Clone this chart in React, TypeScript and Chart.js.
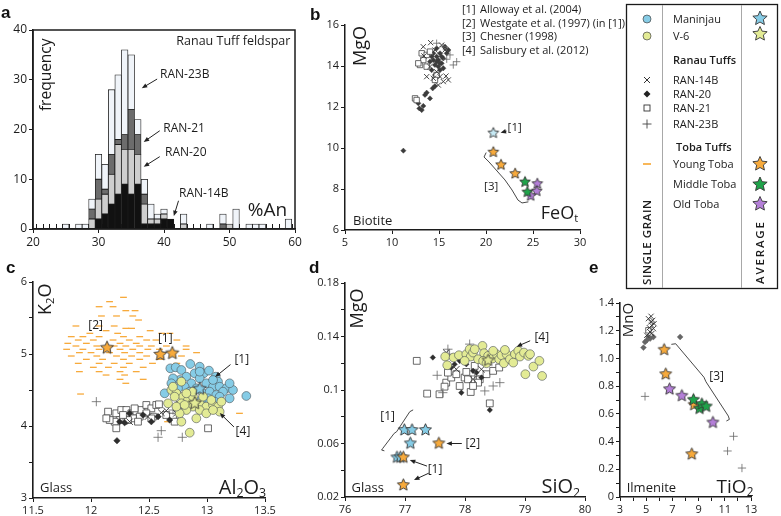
import React, { useEffect, useRef } from 'react';
import { Chart, registerables } from 'chart.js';

Chart.register(...registerables);

const FONT = "'Open Sans', 'Noto Sans', sans-serif";
const INK = '#1c1c1c';

/* ---------- a: plagioclase %An histogram, Ranau Tuffs ---------- */
const anBins = [25, 27, 28, 29, 30, 31, 32, 33, 34, 35, 36, 37, 38, 39, 40, 41, 43, 47, 49, 50, 51, 53, 54, 55, 59];
const anRAN14B = [0, 0, 0, 0, 2, 3, 5, 7, 9, 7, 9, 1, 1, 1, 2, 2, 0, 0, 0, 0, 0, 0, 0, 0, 0];
const anRAN20 = [0, 0, 0, 2, 4, 4, 6, 10, 7, 9, 6, 4, 1, 1, 1, 0, 1, 0, 0, 1, 0, 0, 0, 0, 0];
const anRAN21 = [0, 0, 0, 2, 4, 1, 4, 1, 3, 8, 4, 2, 0, 0, 0, 0, 0, 0, 1, 0, 0, 0, 0, 0, 0];
const anRAN23B = [1, 1, 1, 2, 5, 5, 13, 13, 17, 11, 3, 3, 3, 1, 1, 0, 2, 1, 2, 0, 4, 1, 1, 1, 2];
const aXTicks = [20, 60, 10];
const aYTicks = [0, 40, 10];

/* ---------- b: biotite FeOt vs MgO ---------- */
const bRAN14B = [[14.11, 15.14], [15.28, 15.02], [15.46, 13.24], [15.99, 13.32], [14.93, 13.07], [13.69, 13.48], [13.4, 14.49], [14.57, 14.78], [15.11, 13.48], [15.64, 14.78], [14.75, 13.72], [14.04, 13.97], [14.4, 13.4], [15.74, 13.51], [13.33, 14.94]];
const bRAN20 = [[12.8, 12.18], [12.91, 11.93], [13.16, 11.85], [13.33, 12.05], [13.51, 12.59], [13.69, 12.7], [14.04, 12.42], [14.33, 12.91], [14.57, 13.02], [11.21, 9.87], [14.4, 14.29], [14.75, 14.46], [15.11, 14.62], [15.28, 14.13], [15.46, 14.37], [14.93, 13.97], [14.57, 14.05], [14.22, 13.8], [15.64, 14.94], [15.82, 14.62], [14.75, 14.86], [15.11, 13.8], [14.57, 13.56], [14.04, 14.21], [15.46, 13.89], [14.93, 14.29], [15.28, 14.46], [14.4, 14.62], [16.0, 14.78], [14.22, 14.46], [15.11, 14.13], [14.75, 14.21]];
const bRAN21 = [[13.16, 14.62], [12.98, 14.05], [13.33, 14.29], [13.69, 14.54], [12.45, 12.42], [12.62, 12.34], [14.75, 13.56], [14.57, 13.32], [14.04, 14.7], [13.69, 13.97], [12.8, 14.13]];
const bRAN23B = [[16.88, 14.21], [16.17, 14.54], [16.52, 14.05], [15.82, 14.33], [15.46, 14.94], [14.75, 15.11]];
const bManinjauAvg = [[20.78, 10.75]];
const bYoungAvg = [[20.78, 9.82], [21.6, 9.2], [23.1, 8.77]];
const bMiddleAvg = [[24.15, 8.36], [24.4, 7.87]];
const bOldAvg = [[25.46, 8.28], [25.4, 7.92], [24.75, 7.69]];
const bXTicks = [5, 30, 5];
const bYTicks = [6, 16, 2];

/* ---------- c: glass Al2O3 vs K2O ---------- */
const cYoung = [
  [12.28, 5.787], [12.16, 5.727], [12.07, 5.657], [12.19, 5.657], [12.3, 5.602], [12.38, 5.602],
  [12.09, 5.528], [12.22, 5.528], [12.36, 5.528], [12.41, 5.472], [11.87, 5.389], [12.07, 5.389], [12.2, 5.389],
  [12.3, 5.356], [12.35, 5.356], [12.13, 5.324], [12.51, 5.324], [11.99, 5.287], [12.23, 5.287], [12.61, 5.287], [12.68, 5.287],
  [11.83, 5.241], [11.93, 5.241], [12.07, 5.241], [12.28, 5.241], [12.42, 5.241],
  [11.89, 5.194], [12.02, 5.194], [12.19, 5.194], [12.33, 5.194], [12.48, 5.194], [12.56, 5.194], [12.74, 5.194],
  [11.8, 5.148], [11.96, 5.148], [12.25, 5.148], [12.39, 5.148],
  [11.87, 5.111], [12.05, 5.111], [12.2, 5.111], [12.3, 5.111], [12.42, 5.111], [12.52, 5.111], [12.65, 5.111], [12.82, 5.111],
  [11.79, 5.065], [11.93, 5.065], [12.07, 5.065], [12.25, 5.065], [12.36, 5.065], [12.49, 5.065], [12.59, 5.065], [12.82, 5.065],
  [11.9, 5.019], [12.0, 5.019], [12.16, 5.019], [12.29, 5.019], [12.42, 5.019], [12.71, 5.019], [12.91, 5.019],
  [11.83, 4.972], [12.05, 4.972], [12.22, 4.972], [12.35, 4.972], [12.48, 4.972], [12.78, 4.972],
  [11.96, 4.926], [12.1, 4.926], [12.28, 4.926], [12.42, 4.926], [12.59, 4.926],
  [11.89, 4.87], [12.07, 4.87], [12.2, 4.87], [12.33, 4.87], [12.53, 4.87], [12.74, 4.87],
  [12.02, 4.815], [12.15, 4.815], [12.28, 4.815], [12.45, 4.815],
  [11.9, 4.755], [12.07, 4.755], [12.25, 4.755], [12.39, 4.755], [12.13, 4.708], [12.29, 4.708],
  [12.25, 4.648], [12.45, 4.648], [12.3, 4.593], [11.91, 4.444], [13.28, 4.176], [12.82, 4.245], [12.91, 4.245],
  [12.56, 4.139], [12.71, 4.139], [12.66, 4.06], [12.78, 4.06]];
const cManinjau = [[12.635, 4.454], [12.684, 4.801], [12.73, 4.815], [12.779, 4.778], [12.856, 4.861], [12.937, 4.824], [12.971, 4.731], [13.017, 4.769], [13.075, 4.685], [13.095, 4.616], [12.822, 4.685], [12.764, 4.639], [12.707, 4.662], [12.894, 4.731], [12.937, 4.662], [12.865, 4.593], [12.994, 4.593], [13.052, 4.546], [13.109, 4.546], [13.167, 4.523], [13.224, 4.5], [13.195, 4.593], [13.138, 4.477], [13.339, 4.417], [12.807, 4.546], [12.75, 4.523], [12.908, 4.523], [12.966, 4.454], [13.023, 4.477], [13.08, 4.431], [12.951, 4.361], [13.009, 4.384], [13.109, 4.407], [13.066, 4.338], [12.851, 4.477], [13.195, 4.384], [12.693, 4.593], [13.052, 4.639], [12.937, 4.755]];
const cV6 = [[12.693, 4.5], [12.736, 4.454], [12.793, 4.407], [12.836, 4.361], [12.779, 4.315], [12.879, 4.407], [12.937, 4.315], [12.994, 4.269], [13.052, 4.292], [13.095, 4.269], [13.109, 4.199], [12.879, 4.269], [12.822, 4.222], [12.937, 4.222], [12.994, 4.176], [12.908, 4.106], [12.779, 4.06], [12.851, 3.907], [12.764, 4.176], [12.721, 4.407], [12.664, 4.315], [13.037, 4.361], [13.124, 4.338], [12.966, 4.407], [12.879, 4.477], [12.822, 4.454], [13.052, 4.222], [12.736, 4.269], [12.807, 4.292], [12.707, 4.546], [12.779, 4.616]];
const cRAN21 = [[12.147, 4.199], [12.218, 4.176], [12.261, 4.222], [12.305, 4.222], [12.348, 4.176], [12.391, 4.199], [12.434, 4.222], [12.477, 4.292], [12.52, 4.245], [12.563, 4.292], [12.586, 4.301], [12.477, 4.176], [12.42, 4.13], [12.362, 4.106], [12.319, 4.083], [12.247, 4.083], [12.204, 4.06], [12.161, 4.083], [12.132, 4.106], [12.534, 4.13], [12.649, 4.153], [12.707, 4.13], [12.764, 4.292], [12.721, 4.06], [12.218, 3.968], [13.009, 3.968], [12.276, 4.153], [12.405, 4.06], [12.376, 4.245], [12.52, 4.106]];
const cRAN20 = [[12.224, 3.796], [12.247, 4.06], [12.333, 4.176], [12.448, 4.153], [12.52, 4.06], [12.578, 4.13], [12.678, 4.083], [12.29, 4.046]];
const cRAN23B = [[12.046, 4.338], [12.606, 3.935], [12.578, 3.843], [12.787, 3.843], [12.707, 4.222]];
const cRAN14B = [[12.606, 4.185], [12.333, 4.06], [12.491, 4.13], [12.649, 4.213], [12.736, 4.176]];
const cYoungAvg = [[12.138, 5.093], [12.598, 5.0], [12.701, 5.019]];
const cManinjauAvg = [[12.937, 4.523]];
const cV6Avg = [[12.894, 4.324]];
const cXTicks = [11.5, 13.5, 0.5];
const cYTicks = [3, 6, 0.5];

/* ---------- d: glass SiO2 vs MgO ---------- */
const dV6 = [[77.67, 0.125], [77.704, 0.1185], [77.81, 0.1243], [77.899, 0.126], [78.022, 0.1268], [78.078, 0.1305], [78.095, 0.125], [78.134, 0.128], [78.218, 0.123], [78.291, 0.133], [78.318, 0.1275], [78.385, 0.1255], [78.458, 0.1235], [78.525, 0.1268], [78.57, 0.123], [78.609, 0.126], [78.648, 0.12], [78.693, 0.1268], [78.749, 0.123], [78.832, 0.1268], [78.888, 0.1293], [78.916, 0.125], [78.983, 0.128], [79.056, 0.1255], [79.084, 0.1268], [79.14, 0.1175], [79.24, 0.1218], [79.006, 0.1118], [79.285, 0.1105], [78.302, 0.1218], [78.162, 0.1305], [78.469, 0.1293], [78.804, 0.1205], [78.665, 0.13], [78.358, 0.12], [77.994, 0.1218]];
const dRAN21 = [[77.196, 0.1218], [77.369, 0.0973], [77.575, 0.0968], [77.687, 0.1055], [77.659, 0.1025], [77.771, 0.1093], [77.855, 0.1118], [77.911, 0.103], [77.994, 0.1093], [78.05, 0.108], [78.095, 0.0985], [78.246, 0.108], [78.358, 0.1118], [78.469, 0.1143], [78.57, 0.1168], [78.637, 0.123], [78.413, 0.09], [78.162, 0.118], [78.218, 0.1055], [77.715, 0.113], [78.134, 0.103], [78.022, 0.1135]];
const dRAN20 = [[77.464, 0.1243], [77.771, 0.1168], [77.939, 0.098], [77.827, 0.1193], [78.022, 0.1193], [78.134, 0.1143], [78.274, 0.1093], [78.413, 0.085], [77.911, 0.1218], [78.078, 0.1268], [78.19, 0.113]];
const dRAN23B = [[77.536, 0.111], [77.715, 0.1305], [77.631, 0.098], [78.078, 0.1343], [78.33, 0.0993], [78.469, 0.103], [78.581, 0.1055], [77.743, 0.1268], [78.05, 0.128], [78.162, 0.1105]];
const dRAN14B = [[77.687, 0.128], [78.106, 0.1305], [78.134, 0.108], [78.274, 0.1155], [77.855, 0.1155]];
const dManinjauAvg = [[76.989, 0.0705], [77.117, 0.0705], [77.341, 0.0705], [77.089, 0.0605], [76.866, 0.05], [76.922, 0.05]];
const dYoungAvg = [[77.564, 0.0605], [76.972, 0.05], [76.972, 0.0293]];
const dV6Avg = [[78.385, 0.1225]];
const dXTicks = [76, 80, 1];
const dYTicks = [0.02, 0.18, 0.02];

/* ---------- e: ilmenite TiO2 vs MnO ---------- */
const eRAN14B = [[5.17, 1.287], [5.35, 1.263], [5.42, 1.239], [5.24, 1.222], [5.5, 1.275], [5.55, 1.215], [5.3, 1.191], [5.6, 1.251], [5.37, 1.304], [5.04, 1.167], [5.42, 1.179]];
const eRAN20 = [[4.79, 1.078], [7.59, 1.155], [5.04, 1.131], [5.3, 1.143], [5.17, 1.155], [4.91, 1.119], [5.55, 1.155]];
const eRAN21 = [[5.17, 1.203]];
const eRAN23B = [[4.91, 0.726], [11.67, 0.438], [11.21, 0.332], [12.31, 0.209]];
const eYoungAvg = [[6.37, 1.066], [6.49, 0.89], [8.66, 0.669], [8.48, 0.313]];
const eMiddleAvg = [[8.61, 0.705], [9.07, 0.642], [9.25, 0.674], [9.58, 0.657]];
const eOldAvg = [[6.78, 0.782], [7.72, 0.734], [10.09, 0.541]];
const eXTicks = [3, 13, 1];
const eYTicks = [0, 1.4, 0.1];

/* ---------- legend / references text ---------- */
const refNums = ['[1]', '[2]', '[3]', '[4]'];
const refNames = ['Alloway et al. (2004)', 'Westgate et al. (1997) (in [1])', 'Chesner (1998)', 'Salisbury et al. (2012)'];

const C_MAN = '#86cce6';
const C_V6 = '#e3eb95';
const C_YOUNG = '#f7aa3c';
const C_MID = '#1fa34a';
const C_OLD = '#b47fd8';
const C_MAN_B = '#c6e9f4';

const pts = (a: number[][]) => a.map(([x, y]) => ({ x, y }));

function starCanvas(fill: string, r: number) {
  const s = Math.ceil(r * 2 + 4);
  const c = document.createElement('canvas');
  c.width = s; c.height = s;
  const ctx = c.getContext('2d')!;
  ctx.translate(s / 2, s / 2 + r * 0.08);
  ctx.beginPath();
  for (let i = 0; i < 10; i++) {
    const rr = i % 2 === 0 ? r : r * 0.47;
    const a = -Math.PI / 2 + (i * Math.PI) / 5;
    ctx.lineTo(rr * Math.cos(a), rr * Math.sin(a));
  }
  ctx.closePath();
  ctx.fillStyle = fill; ctx.fill();
  ctx.lineWidth = 0.9; ctx.strokeStyle = '#333'; ctx.lineJoin = 'miter'; ctx.stroke();
  return c;
}

function starPoly(cx: number, cy: number, r: number) {
  const p: string[] = [];
  for (let i = 0; i < 10; i++) {
    const rr = i % 2 === 0 ? r : r * 0.47;
    const a = -Math.PI / 2 + (i * Math.PI) / 5;
    p.push(`${(cx + rr * Math.cos(a)).toFixed(2)},${(cy + rr * Math.sin(a)).toFixed(2)}`);
  }
  return p.join(' ');
}

function drawText(ctx: CanvasRenderingContext2D, tx: any, px: number, py: number) {
  const parts = typeof tx.t === 'string' ? [{ t: tx.t }] : tx.t;
  const w = tx.weight || '400';
  const fs = (p: any) => (p.sub ? tx.size * 0.62 : tx.size);
  let total = 0;
  for (const p of parts) { ctx.font = `${w} ${fs(p)}px ${FONT}`; total += ctx.measureText(p.t).width; }
  ctx.save();
  ctx.translate(px, py);
  if (tx.rot) ctx.rotate((tx.rot * Math.PI) / 180);
  let sx = tx.align === 'right' ? -total : tx.align === 'center' ? -total / 2 : 0;
  ctx.fillStyle = INK; ctx.textBaseline = 'middle'; ctx.textAlign = 'left';
  for (const p of parts) {
    ctx.font = `${w} ${fs(p)}px ${FONT}`;
    ctx.fillText(p.t, sx, p.sub ? tx.size * 0.3 : 0);
    sx += ctx.measureText(p.t).width;
  }
  ctx.restore();
}

function annotPlugin(spec: any) {
  return {
    id: 'annot',
    beforeDatasetsDraw(chart: any) {
      if (!spec.minor) return;
      const { ctx, scales: { x, y } } = chart;
      const [a, b, st, len] = spec.minor;
      const base = y.getPixelForValue(y.min);
      ctx.save(); ctx.strokeStyle = INK; ctx.lineWidth = 1; ctx.beginPath();
      for (let v = a; v <= b + 1e-9; v += st) {
        const px = Math.round(x.getPixelForValue(v)) + 0.5;
        ctx.moveTo(px, base); ctx.lineTo(px, base - len);
      }
      ctx.stroke(); ctx.restore();
    },
    afterDraw(chart: any) {
      const { ctx, scales: { x, y }, chartArea } = chart;
      const X = (v: number) => x.getPixelForValue(v);
      const Y = (v: number) => y.getPixelForValue(v);
      ctx.save();
      if (spec.box) {
        ctx.strokeStyle = INK; ctx.lineWidth = 1.5;
        ctx.strokeRect(chartArea.left, chartArea.top, chartArea.right - chartArea.left, chartArea.bottom - chartArea.top);
      }
      ctx.strokeStyle = '#333'; ctx.lineWidth = 0.9; ctx.lineJoin = 'round'; ctx.lineCap = 'round';
      for (const pl of spec.lines || []) {
        ctx.beginPath();
        pl.forEach(([a, b]: number[], i: number) => (i ? ctx.lineTo(X(a), Y(b)) : ctx.moveTo(X(a), Y(b))));
        ctx.stroke();
      }
      for (const [x1, y1, x2, y2] of spec.arrows || []) {
        const ax = X(x1), ay = Y(y1), bx = X(x2), by = Y(y2);
        const ang = Math.atan2(by - ay, bx - ax);
        ctx.strokeStyle = '#222'; ctx.fillStyle = '#222'; ctx.lineWidth = 1;
        ctx.beginPath(); ctx.moveTo(ax, ay); ctx.lineTo(bx - 3 * Math.cos(ang), by - 3 * Math.sin(ang)); ctx.stroke();
        ctx.beginPath();
        ctx.moveTo(bx, by);
        ctx.lineTo(bx - 5.5 * Math.cos(ang) + 2.3 * Math.sin(ang), by - 5.5 * Math.sin(ang) - 2.3 * Math.cos(ang));
        ctx.lineTo(bx - 5.5 * Math.cos(ang) - 2.3 * Math.sin(ang), by - 5.5 * Math.sin(ang) + 2.3 * Math.cos(ang));
        ctx.closePath(); ctx.fill();
      }
      for (const tx of spec.texts || []) drawText(ctx, tx, X(tx.x), Y(tx.y));
      ctx.restore();
    },
  };
}

function axis(t: number[], size: number, fmt: any, fit: number, horiz: boolean, bw = 1.6) {
  return {
    type: 'linear', min: t[0], max: t[1], offset: false,
    ticks: { stepSize: t[2], autoSkip: false, maxRotation: 0, minRotation: 0, padding: 2, color: INK, font: { family: FONT, size }, callback: fmt },
    grid: { display: true, drawOnChartArea: false, drawTicks: true, tickLength: 4, color: INK, tickColor: INK, lineWidth: 1, offset: false },
    border: { display: true, color: INK, width: bw },
    afterFit: (s: any) => { if (horiz) s.height = fit; else s.width = fit; },
  };
}

const baseOpts = (pad: any) => ({
  responsive: false, animation: false, devicePixelRatio: 1, events: [],
  layout: { padding: pad },
  plugins: { legend: { display: false }, tooltip: { enabled: false } },
});

/* marker styles */
const sRAN14B = (s = 1) => ({ pointStyle: 'crossRot', pointRadius: 4.6 * s, pointBorderColor: '#333', pointBackgroundColor: '#333', pointBorderWidth: 0.9 });
const sRAN20 = (s = 1, c = '#2e2e2e') => ({ pointStyle: 'rectRot', pointRadius: 3.3 * s, pointBackgroundColor: c, pointBorderColor: c, pointBorderWidth: 0.4 });
const sRAN21 = (s = 1) => ({ pointStyle: 'rect', pointRadius: 4.8 * s, pointBackgroundColor: '#fff', pointBorderColor: '#444', pointBorderWidth: 0.8 });
const sRAN23B = (s = 1) => ({ pointStyle: 'cross', pointRadius: 4.6 * s, pointBorderColor: '#666', pointBorderWidth: 0.8 });
const sYoung = { pointStyle: 'line', pointRadius: 3.4, pointBorderColor: C_YOUNG, pointBorderWidth: 1.3 };
const sCircle = (c: string) => ({ pointStyle: 'circle', pointRadius: 4.4, pointBackgroundColor: c, pointBorderColor: '#4d5457', pointBorderWidth: 0.6 });
const sStar = (c: string, r: number) => ({ pointStyle: starCanvas(c, r), pointRadius: r });
const ds = (label: string, d: number[][], st: any) => ({ label, data: pts(d), showLine: false, ...st });

function scatter(cv: HTMLCanvasElement, datasets: any[], xs: any, ys: any, pad: any, ann: any) {
  return new Chart(cv, {
    type: 'scatter',
    data: { datasets },
    options: { ...baseOpts(pad), scales: { x: xs, y: ys } } as any,
    plugins: [annotPlugin(ann)],
  } as any);
}

function buildA(cv: HTMLCanvasElement) {
  const mk = (label: string, vals: number[], color: string) => ({
    label,
    data: anBins.map((x, i) => ({ x, y: vals[i] })).filter((p) => p.y > 0),
    backgroundColor: color, borderColor: '#1a1a1a', borderWidth: 0.8, borderSkipped: false,
    barPercentage: 1, categoryPercentage: 1, stack: 's',
  });
  const ann = {
    box: true, minor: [20.5, 59.5, 1, 5],
    texts: [
      { x: 59.3, y: 37.8, t: 'Ranau Tuff feldspar', size: 12.5, align: 'right' },
      { x: 22.05, y: 31, t: 'frequency', size: 15.5, align: 'center', rot: -90 },
      { x: 39.4, y: 31, t: 'RAN-23B', size: 12 },
      { x: 39.9, y: 20.2, t: 'RAN-21', size: 12 },
      { x: 40.15, y: 15.3, t: 'RAN-20', size: 12 },
      { x: 42.3, y: 7.2, t: 'RAN-14B', size: 12 },
      { x: 52.8, y: 3.7, t: '%An', size: 19 },
    ],
    arrows: [[38.9, 30.1, 36.6, 28.3], [39.3, 19.7, 36.9, 17.5], [39.3, 14.5, 36.9, 12.5], [42.2, 5.6, 41.5, 2.6]],
  };
  return new Chart(cv, {
    type: 'bar',
    data: { datasets: [mk('RAN-14B', anRAN14B, '#111111'), mk('RAN-20', anRAN20, '#cecece'), mk('RAN-21', anRAN21, '#6c6c6c'), mk('RAN-23B', anRAN23B, '#f0f4f9')] },
    options: {
      ...baseOpts({ left: 0, right: 10, top: 30, bottom: 0 }),
      scales: {
        x: { ...axis(aXTicks, 12, (v: number) => String(v), 26, true, 1.5), stacked: true },
        y: { ...axis(aYTicks, 12, (v: number) => String(v), 33, false, 1.5), stacked: true },
      },
    } as any,
    plugins: [annotPlugin(ann)],
  } as any);
}

function buildB(cv: HTMLCanvasElement) {
  const s = 0.8;
  const datasets = [
    ds('Maninjau avg', bManinjauAvg, sStar(C_MAN_B, 5.6)),
    ds('Young Toba avg', bYoungAvg, sStar(C_YOUNG, 5.6)),
    ds('Middle Toba avg', bMiddleAvg, sStar(C_MID, 5.6)),
    ds('Old Toba avg', bOldAvg, sStar(C_OLD, 5.6)),
    ds('RAN-14B', bRAN14B, sRAN14B(s)),
    ds('RAN-23B', bRAN23B, sRAN23B(s)),
    ds('RAN-21', bRAN21, sRAN21(s)),
    ds('RAN-20', bRAN20, sRAN20(s, '#3c3c3c')),
  ];
  const ann = {
    texts: [
      { x: 6.7, y: 14.98, t: 'MgO', size: 18, align: 'center', rot: -90 },
      { x: 5.85, y: 6.42, t: 'Biotite', size: 13 },
      { x: 29.8, y: 6.8, t: [{ t: 'FeO' }, { t: 't', sub: true }], size: 18, align: 'right' },
      { x: 22.3, y: 11.0, t: '[1]', size: 11.5 },
      { x: 20.55, y: 8.1, t: '[3]', size: 11.5, align: 'center' },
    ],
    arrows: [[22.15, 10.82, 21.55, 10.74]],
    lines: [[[20.0, 9.76], [19.79, 9.56], [20.32, 9.32], [22.02, 8.44], [22.77, 7.95], [23.4, 7.46], [23.83, 7.32], [24.47, 7.37]]],
  };
  return scatter(cv, datasets,
    axis(bXTicks, 11, (v: number) => String(v), 25, true, 1.5),
    axis(bYTicks, 11, (v: number) => String(v), 45, false, 1.5),
    { left: 0, right: 50, top: 25, bottom: 0 }, ann);
}

function buildC(cv: HTMLCanvasElement) {
  const datasets = [
    ds('Young Toba avg', cYoungAvg, sStar(C_YOUNG, 6.8)),
    ds('Maninjau avg', cManinjauAvg, sStar(C_MAN, 6.8)),
    ds('V-6 avg', cV6Avg, sStar(C_V6, 6.8)),
    ds('V-6', cV6, sCircle(C_V6)),
    ds('Maninjau', cManinjau, sCircle(C_MAN)),
    ds('RAN-14B', cRAN14B, sRAN14B()),
    ds('RAN-23B', cRAN23B, sRAN23B()),
    ds('RAN-20', cRAN20, sRAN20()),
    ds('RAN-21', cRAN21, sRAN21()),
    ds('Young Toba', cYoung, sYoung),
  ];
  const ann = {
    texts: [
      { x: 11.61, y: 5.76, t: [{ t: 'K' }, { t: '2', sub: true }, { t: 'O' }], size: 18, align: 'center', rot: -90 },
      { x: 11.56, y: 3.13, t: 'Glass', size: 13 },
      { x: 13.51, y: 3.14, t: [{ t: 'Al' }, { t: '2', sub: true }, { t: 'O' }, { t: '3', sub: true }], size: 20, align: 'right' },
      { x: 12.04, y: 5.4, t: '[2]', size: 12, align: 'center' },
      { x: 12.64, y: 5.21, t: '[1]', size: 12, align: 'center' },
      { x: 13.3, y: 4.92, t: '[1]', size: 12, align: 'center' },
      { x: 13.31, y: 3.92, t: '[4]', size: 12, align: 'center' },
    ],
    arrows: [[13.2, 4.85, 13.07, 4.68], [13.23, 3.99, 13.11, 4.18]],
  };
  return scatter(cv, datasets,
    axis(cXTicks, 11, (v: number) => String(Math.round(v * 10) / 10), 18, true),
    axis(cYTicks, 11, (v: number) => (Math.abs(v - Math.round(v)) < 1e-6 ? String(Math.round(v)) : ''), 33, false),
    { left: 0, right: 35, top: 27, bottom: 0 }, ann);
}

function buildD(cv: HTMLCanvasElement) {
  const datasets = [
    ds('Young Toba avg', dYoungAvg, sStar(C_YOUNG, 6.3)),
    ds('Maninjau avg', dManinjauAvg, sStar(C_MAN, 6.3)),
    ds('V-6 avg', dV6Avg, sStar(C_V6, 6.3)),
    ds('V-6', dV6, sCircle(C_V6)),
    ds('RAN-14B', dRAN14B, sRAN14B()),
    ds('RAN-23B', dRAN23B, sRAN23B()),
    ds('RAN-20', dRAN20, sRAN20(0.85)),
    ds('RAN-21', dRAN21, sRAN21()),
  ];
  const ann = {
    texts: [
      { x: 76.22, y: 0.161, t: 'MgO', size: 18, align: 'center', rot: -90 },
      { x: 76.11, y: 0.0265, t: 'Glass', size: 13 },
      { x: 79.92, y: 0.0275, t: [{ t: 'SiO' }, { t: '2', sub: true }], size: 20, align: 'right' },
      { x: 79.28, y: 0.139, t: '[4]', size: 12, align: 'center' },
      { x: 76.71, y: 0.08, t: '[1]', size: 12, align: 'center' },
      { x: 78.13, y: 0.06, t: '[2]', size: 12, align: 'center' },
      { x: 77.5, y: 0.0407, t: '[1]', size: 12, align: 'center' },
    ],
    arrows: [[79.08, 0.1367, 78.86, 0.1324], [77.94, 0.06, 77.69, 0.06], [77.36, 0.0432, 77.08, 0.0477], [77.39, 0.0377, 77.15, 0.0327]],
    lines: [[[77.13, 0.085], [77.08, 0.0838], [76.86, 0.0688], [76.82, 0.0676], [76.63, 0.0564], [76.61, 0.0551], [76.65, 0.0546]]],
  };
  return scatter(cv, datasets,
    axis(dXTicks, 11, (v: number) => String(Math.round(v)), 19, true),
    axis(dYTicks, 11, (v: number) => (Math.round(v * 100) % 4 === 2 ? String(Math.round(v * 100) / 100) : ''), 45, false),
    { left: 0, right: 15, top: 28, bottom: 0 }, ann);
}

function buildE(cv: HTMLCanvasElement) {
  const datasets = [
    ds('Old Toba avg', eOldAvg, sStar(C_OLD, 6.3)),
    ds('Middle Toba avg', eMiddleAvg, sStar(C_MID, 6.3)),
    ds('Young Toba avg', eYoungAvg, sStar(C_YOUNG, 6.3)),
    ds('RAN-14B', eRAN14B, sRAN14B(0.8)),
    ds('RAN-21', eRAN21, sRAN21(0.8)),
    ds('RAN-20', eRAN20, sRAN20(0.9, '#666')),
    ds('RAN-23B', eRAN23B, sRAN23B(0.9)),
  ];
  const ann = {
    texts: [
      { x: 3.64, y: 1.277, t: 'MnO', size: 15, align: 'center', rot: -90 },
      { x: 3.51, y: 0.063, t: 'Ilmenite', size: 13 },
      { x: 13.18, y: 0.07, t: [{ t: 'TiO' }, { t: '2', sub: true }], size: 19, align: 'right' },
      { x: 10.38, y: 0.868, t: '[3]', size: 12, align: 'center' },
    ],
    lines: [[[6.95, 1.102], [7.25, 1.106], [9.41, 0.864], [9.56, 0.832], [11.27, 0.584], [11.35, 0.56], [11.15, 0.55]]],
  };
  return scatter(cv, datasets,
    axis(eXTicks, 11, (v: number) => (Math.round(v) % 2 === 1 ? String(Math.round(v)) : ''), 19, true),
    axis(eYTicks, 11, (v: number) => (Math.round(v * 10) % 2 === 0 ? (Math.round(v * 10) === 0 ? '0' : v.toFixed(1)) : ''), 35, false),
    { left: 0, right: 30, top: 48, bottom: 0 }, ann);
}

function ChartCanvas({ x, y, w, h, build }: any) {
  const ref = useRef<HTMLCanvasElement | null>(null);
  useEffect(() => {
    const c = build(ref.current);
    return () => c.destroy();
  }, [build]);
  return <canvas ref={ref} width={w} height={h} style={{ position: 'absolute', left: x, top: y, width: w, height: h }} />;
}

export default function App() {
  const letter = { fontFamily: "'Liberation Sans', Arial, sans-serif", fontWeight: 700, fontSize: 17, fill: '#111' } as any;
  const lt = { fontSize: 11, fill: INK } as any;
  return (
    <div style={{ position: 'absolute', left: 0, top: 0, width: 781, height: 516, background: '#fff', overflow: 'hidden' }}>
      <ChartCanvas x={0} y={0} w={305} h={255} build={buildA} />
      <ChartCanvas x={300} y={0} w={330} h={255} build={buildB} />
      <ChartCanvas x={0} y={255} w={300} h={261} build={buildC} />
      <ChartCanvas x={300} y={255} w={300} h={261} build={buildD} />
      <ChartCanvas x={585} y={255} w={196} h={261} build={buildE} />
      <svg width={781} height={516} style={{ position: 'absolute', left: 0, top: 0, pointerEvents: 'none' }} fontFamily={FONT}>
        <text x={1} y={18} {...letter}>a</text>
        <text x={310} y={20} {...letter}>b</text>
        <text x={6} y={273} {...letter}>c</text>
        <text x={309} y={273} {...letter}>d</text>
        <text x={589} y={273} {...letter}>e</text>
        {refNums.map((n, i) => (
          <g key={n}>
            <text x={462} y={13 + i * 13.7} fontSize={11} fill={INK}>{n}</text>
            <text x={480} y={13 + i * 13.7} fontSize={11} fill={INK}>{refNames[i]}</text>
          </g>
        ))}
        <rect x={626.5} y={4.5} width={151} height={284} fill="#fff" stroke="#1a1a1a" strokeWidth={1.3} />
        <line x1={662.5} y1={5} x2={662.5} y2={288} stroke="#a8a8a8" strokeWidth={1} />
        <line x1={741.5} y1={5} x2={741.5} y2={288} stroke="#a8a8a8" strokeWidth={1} />
        <circle cx={647} cy={19} r={4} fill={C_MAN} stroke="#444" strokeWidth={0.7} />
        <circle cx={647} cy={36} r={4} fill={C_V6} stroke="#444" strokeWidth={0.7} />
        <text x={673} y={23} {...lt}>Maninjau</text>
        <text x={673} y={40} {...lt}>V-6</text>
        <text x={673} y={64} {...lt} fontWeight={600}>Ranau Tuffs</text>
        <line x1={644} y1={77} x2={650} y2={83} stroke="#333" strokeWidth={1} />
        <line x1={650} y1={77} x2={644} y2={83} stroke="#333" strokeWidth={1} />
        <text x={673} y={84} {...lt}>RAN-14B</text>
        <polygon points="647,90.5 650.5,94 647,97.5 643.5,94" fill="#222" />
        <text x={673} y={98} {...lt}>RAN-20</text>
        <rect x={644} y={105} width={6} height={6} fill="#fff" stroke="#333" strokeWidth={0.9} />
        <text x={673} y={112} {...lt}>RAN-21</text>
        <line x1={642.5} y1={124} x2={651.5} y2={124} stroke="#444" strokeWidth={0.9} />
        <line x1={647} y1={119.5} x2={647} y2={128.5} stroke="#444" strokeWidth={0.9} />
        <text x={673} y={128} {...lt}>RAN-23B</text>
        <text x={676} y={151} {...lt} fontWeight={600}>Toba Tuffs</text>
        <line x1={643} y1={164} x2={651} y2={164} stroke={C_YOUNG} strokeWidth={1.7} />
        <text x={673} y={168} {...lt}>Young Toba</text>
        <text x={673} y={188} {...lt}>Middle Toba</text>
        <text x={673} y={208} {...lt}>Old Toba</text>
        <polygon points={starPoly(760, 18.5, 7.5)} fill={C_MAN} stroke="#333" strokeWidth={0.9} />
        <polygon points={starPoly(760, 34, 7.5)} fill={C_V6} stroke="#333" strokeWidth={0.9} />
        <polygon points={starPoly(760, 164, 7.5)} fill={C_YOUNG} stroke="#333" strokeWidth={0.9} />
        <polygon points={starPoly(760, 184.5, 7.5)} fill={C_MID} stroke="#333" strokeWidth={0.9} />
        <polygon points={starPoly(760, 204, 7.5)} fill={C_OLD} stroke="#333" strokeWidth={0.9} />
        <text transform="translate(651,242.5) rotate(-90)" textAnchor="middle" fontSize={11.5} fontWeight={600} fill={INK} textLength={85} lengthAdjust="spacing">SINGLE GRAIN</text>
        <text transform="translate(764,253) rotate(-90)" textAnchor="middle" fontSize={11.5} fontWeight={600} fill={INK} textLength={62} lengthAdjust="spacing">AVERAGE</text>
      </svg>
    </div>
  );
}
